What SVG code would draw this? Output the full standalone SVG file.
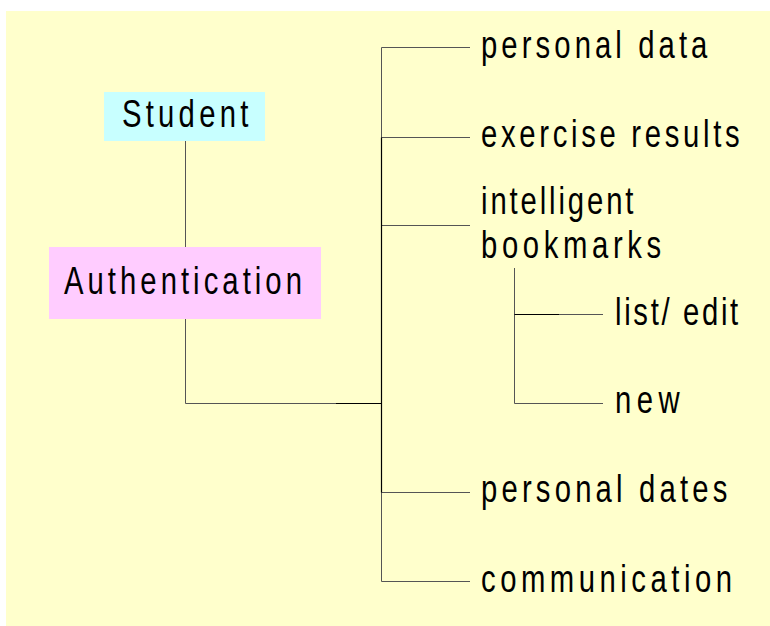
<svg xmlns="http://www.w3.org/2000/svg" width="770" height="626" viewBox="0 0 770 626">
<style>
.t{font-family:"Liberation Sans",Arial,sans-serif;font-size:38px;fill:#000}
.c{stroke:#555;stroke-width:1;fill:none}
.d{stroke:#000;stroke-width:1.2;fill:none}
</style>
<rect x="6" y="11" width="764" height="615" fill="#FFFFCC"/>
<g id="connectors">
<path class="c" d="M185.5 141V247M185.5 319V403.5H381.5"/>
<path class="c" d="M470 47.5H381.5V581.5H470M381.5 137.5H470M381.5 225.5H470M381.5 492.5H470"/>
<path class="c" d="M514.5 268V403.5H603M514.5 314.5H603"/>
<path class="d" d="M381.5 137.5V492.5M336 403.5H381.5M514.5 314.5H559"/>
</g>
<g id="student">
<rect x="104" y="92" width="161" height="49" fill="#C8FFFF"/>
<text class="t" transform="translate(122,127) scale(0.77,1)" textLength="164" lengthAdjust="spacing">Student</text>
</g>
<g id="authentication">
<rect x="49" y="247" width="272" height="72" fill="#FFCCFF"/>
<text class="t" transform="translate(64,293.5) scale(0.77,1)" textLength="309" lengthAdjust="spacing">Authentication</text>
</g>
<g id="personal-data">
<text class="t" transform="translate(481,58) scale(0.77,1)" textLength="294" lengthAdjust="spacing">personal data</text>
</g>
<g id="exercise-results">
<text class="t" transform="translate(481,147) scale(0.77,1)" textLength="336" lengthAdjust="spacing">exercise results</text>
</g>
<g id="intelligent-bookmarks">
<text class="t" transform="translate(481,214) scale(0.77,1)" textLength="198" lengthAdjust="spacing">intelligent</text>
<text class="t" transform="translate(481,258) scale(0.77,1)" textLength="234" lengthAdjust="spacing">bookmarks</text>
</g>
<g id="list-edit">
<text class="t" transform="translate(615,325) scale(0.77,1)" textLength="160" lengthAdjust="spacing">list/ edit</text>
</g>
<g id="new">
<text class="t" transform="translate(615,413) scale(0.77,1)" textLength="84" lengthAdjust="spacing">new</text>
</g>
<g id="personal-dates">
<text class="t" transform="translate(481,502) scale(0.77,1)" textLength="320" lengthAdjust="spacing">personal dates</text>
</g>
<g id="communication">
<text class="t" transform="translate(481,592) scale(0.77,1)" textLength="326" lengthAdjust="spacing">communication</text>
</g>
</svg>
